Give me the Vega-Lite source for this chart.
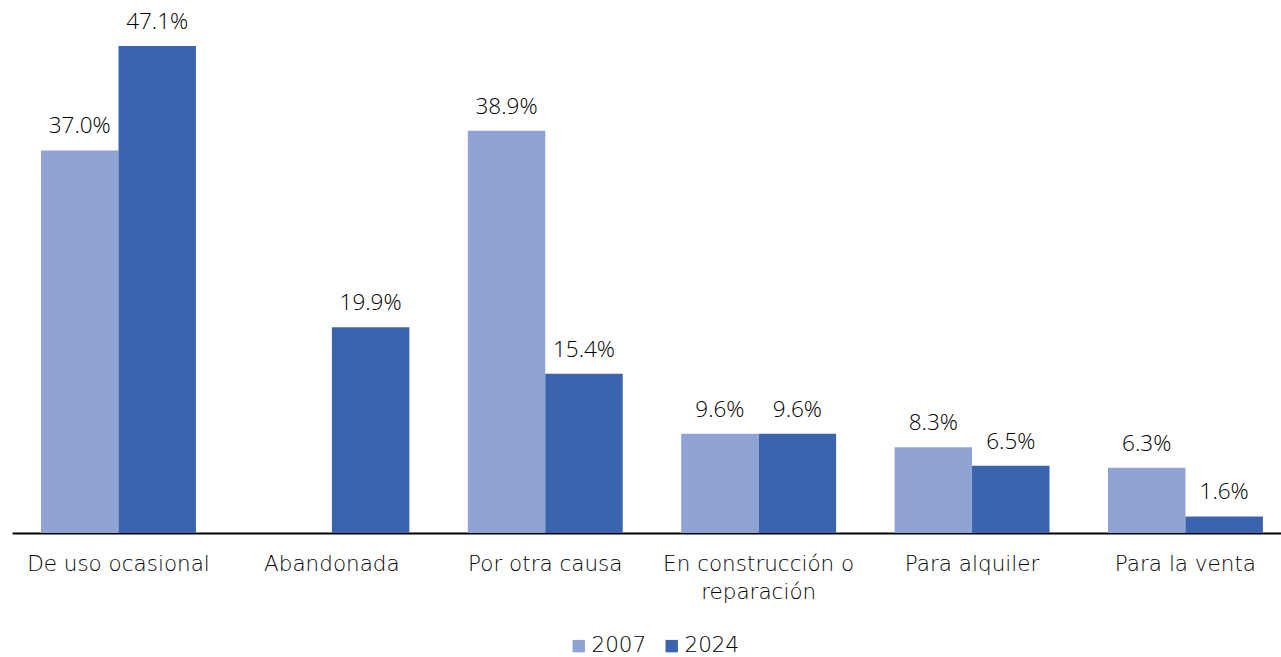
{
  "$schema": "https://vega.github.io/schema/vega-lite/v6.json",
  "width": 1269,
  "height": 517,
  "autosize": "none",
  "padding": {"left": 12, "top": 16, "right": 0, "bottom": 124},
  "background": "white",
  "config": {
    "font": "DejaVu Sans",
    "view": {"stroke": null}
  },
  "data": {
    "values": [
      {"causa": "De uso ocasional", "anio": "2007", "valor": 37.0, "etiqueta": "37.0%"},
      {"causa": "De uso ocasional", "anio": "2024", "valor": 47.1, "etiqueta": "47.1%"},
      {"causa": "Abandonada", "anio": "2024", "valor": 19.9, "etiqueta": "19.9%"},
      {"causa": "Por otra causa", "anio": "2007", "valor": 38.9, "etiqueta": "38.9%"},
      {"causa": "Por otra causa", "anio": "2024", "valor": 15.4, "etiqueta": "15.4%"},
      {"causa": "En construcción o reparación", "anio": "2007", "valor": 9.6, "etiqueta": "9.6%"},
      {"causa": "En construcción o reparación", "anio": "2024", "valor": 9.6, "etiqueta": "9.6%"},
      {"causa": "Para alquiler", "anio": "2007", "valor": 8.3, "etiqueta": "8.3%"},
      {"causa": "Para alquiler", "anio": "2024", "valor": 6.5, "etiqueta": "6.5%"},
      {"causa": "Para la venta", "anio": "2007", "valor": 6.3, "etiqueta": "6.3%"},
      {"causa": "Para la venta", "anio": "2024", "valor": 1.6, "etiqueta": "1.6%"}
    ]
  },
  "encoding": {
    "x": {
      "field": "causa",
      "type": "nominal",
      "sort": null,
      "scale": {"paddingInner": 0.274, "paddingOuter": 0.1104, "align": 0.616},
      "axis": {
        "title": null,
        "labelAngle": 0,
        "ticks": false,
        "domainColor": "#000000",
        "domainWidth": 2,
        "labelFont": "DejaVu Sans",
        "labelFontSize": 21.5,
        "labelFontWeight": 300,
        "labelColor": "#000000",
        "labelPadding": 20,
        "labelLineHeight": 28,
        "labelBaseline": "top",
        "labelLimit": 0,
        "labelOverlap": false,
        "labelExpr": "datum.label == 'En construcción o reparación' ? ['En construcción o', 'reparación'] : datum.label"
      }
    },
    "xOffset": {"field": "anio", "type": "nominal", "scale": {"paddingInner": 0}},
    "y": {
      "field": "valor",
      "type": "quantitative",
      "scale": {"domain": [0, 50]},
      "axis": null
    }
  },
  "layer": [
    {
      "mark": {"type": "bar"},
      "encoding": {
        "color": {
          "field": "anio",
          "type": "nominal",
          "scale": {"domain": ["2007", "2024"], "range": ["#8FA4D4", "#3C64AE"]},
          "legend": {
            "title": null,
            "orient": "none",
            "direction": "horizontal",
            "legendX": 556,
            "legendY": 619,
            "symbolType": "square",
            "symbolSize": 154,
            "symbolStrokeWidth": 0,
            "labelFont": "DejaVu Sans",
            "labelFontSize": 21.5,
            "labelFontWeight": 300,
            "labelColor": "#000000",
            "labelOffset": 2,
            "columnPadding": 14
          }
        }
      }
    },
    {
      "mark": {"type": "text", "baseline": "alphabetic", "dy": -17, "fontSize": 22.5, "fontWeight": 300, "font": "Open Sans", "color": "#000000"},
      "encoding": {
        "text": {"field": "etiqueta", "type": "nominal"}
      }
    }
  ]
}
